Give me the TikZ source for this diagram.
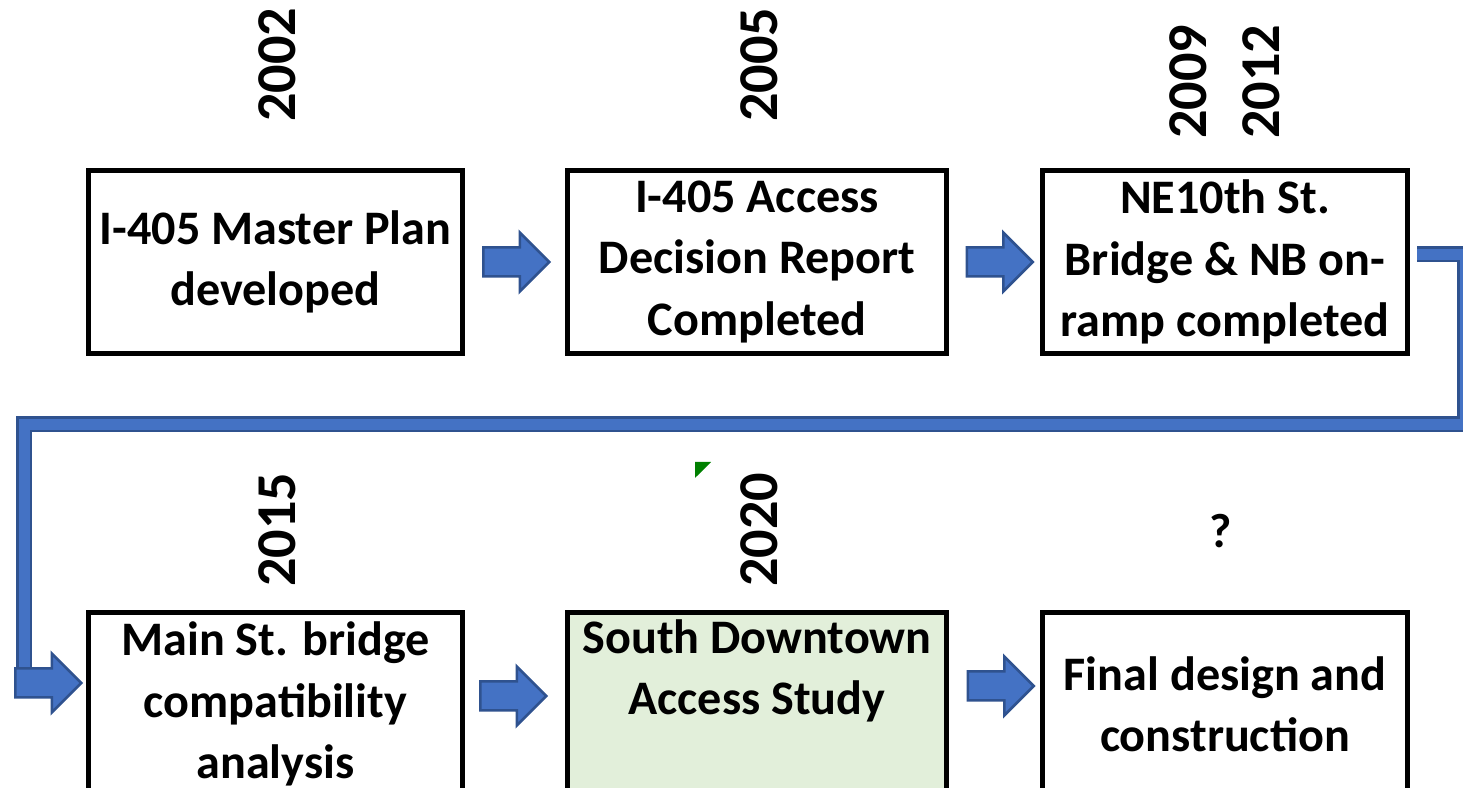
\documentclass[tikz,border=0pt]{standalone}
\usepackage{fontspec}
\setmainfont{Carlito}
\usepackage{tikz}
\usetikzlibrary{shapes.arrows}
\definecolor{arrowfill}{RGB}{68,114,196}
\definecolor{arrowline}{RGB}{47,82,143}
\definecolor{studygreen}{RGB}{226,239,218}
\definecolor{markgreen}{RGB}{0,128,0}
\tikzset{
  stepbox/.style={draw, line width=0.05cm, minimum height=1.83cm, align=center, inner sep=0,
    font=\fontsize{13.7}{17.4}\selectfont\bfseries},
  yearlabel/.style={rotate=90, inner sep=0, font=\fontsize{16}{19}\selectfont\bfseries},
  blockarrow/.style={single arrow, draw=arrowline, fill=arrowfill, line width=0.025cm,
    text height=0.1325cm, text depth=0.1325cm, text width=0pt, inner sep=0,
    minimum height=0.66cm, minimum width=0pt, single arrow head extend=0.15cm},
  elbow/.style={draw=arrowline, line width=0.025cm, double=arrowfill, double distance=0.11cm, line join=miter}
}
\begin{document}
\begin{tikzpicture}
        \useasboundingbox (0,0) rectangle (14.63,7.88);
        \clip (0,0) rectangle (14.63,7.88);
        % top row
        \node[stepbox, minimum width=3.74cm] (b1) at (2.755,5.26) {I-405 Master Plan\\developed};
        \node[stepbox, minimum width=3.79cm] (b2) at (7.57,5.26) {I-405 Access\\Decision Report\\Completed};
        \node[stepbox, minimum width=3.65cm] (b3) at (12.25,5.26) {NE10th St.\\Bridge \& NB on-\\ramp completed};
        % bottom row
        \node[stepbox, minimum width=3.74cm] (b4) at (2.755,0.84) {Main St. bridge\\compatibility\\analysis};
        \node[stepbox, minimum width=3.79cm, fill=studygreen] (b5) at (7.57,0.84) {South Downtown\\Access Study\\[0.12cm]~};
        \node[stepbox, minimum width=3.65cm] (b6) at (12.25,0.84) {Final design and\\construction};
        % years
        \node[yearlabel] (y1) at (2.77,7.23) {2002};
        \node[yearlabel] (y2) at (7.59,7.23) {2005};
        \node[yearlabel] (y3) at (11.88,7.06) {2009};
        \node[yearlabel] (y4) at (12.61,7.06) {2012};
        \node[yearlabel] (y5) at (2.77,2.58) {2015};
        \node[yearlabel] (y6) at (7.59,2.58) {2020};
        \node[anchor=base, inner sep=0, font=\fontsize{13.7}{17.4}\selectfont\bfseries] (y7) at (12.21,2.40) {?};
        % arrows
        \path (b1) -- (b2) node[midway, xshift=-0.06cm, blockarrow] (a1) {};
        \path (b2) -- (b3) node[midway, xshift=-0.02cm, blockarrow] (a2) {};
        \path (b4) -- (b5) node[midway, xshift=-0.09cm, yshift=0.08cm, blockarrow] (a3) {};
        \path (b5) -- (b6) node[midway, xshift=-0.01cm, yshift=0.18cm, blockarrow] (a4) {};
        % return line to the second row
        \coordinate (c1) at (14.65,3.635);
        \coordinate (c2) at (0.24,1.13);
        \draw[elbow] (14.17,5.335) -| (c1) -| (c2);
        \node[blockarrow] (a0) at (0.41,1.05) {};
        \fill[markgreen] (6.95,3.26) -- (7.11,3.26) -- (6.95,3.10) -- cycle;
\end{tikzpicture}
\end{document}
